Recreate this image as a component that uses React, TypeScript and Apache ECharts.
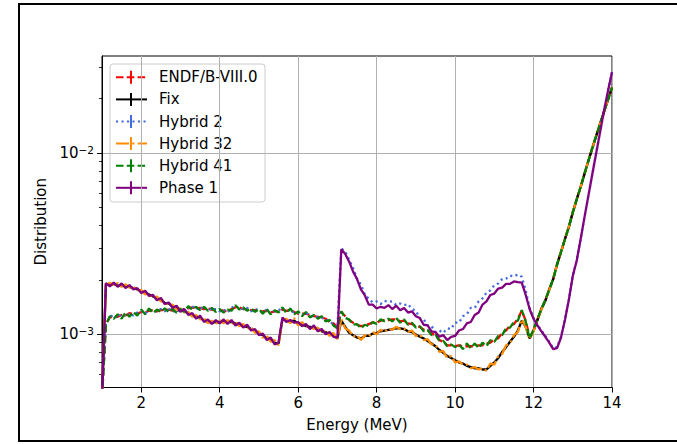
import React, { useEffect, useRef } from "react";
import * as echarts from "echarts";

// Energy grid (MeV)
const energyMeV = [
  1.0, 1.1, 1.2, 1.3, 1.4, 1.5, 1.6, 1.7, 1.8, 1.9,
  2.0, 2.1, 2.2, 2.3, 2.4, 2.5, 2.6, 2.7, 2.8, 2.9,
  3.0, 3.1, 3.2, 3.3, 3.4, 3.5, 3.6, 3.7, 3.8, 3.9,
  4.0, 4.1, 4.2, 4.3, 4.4, 4.5, 4.6, 4.7, 4.8, 4.9,
  5.0, 5.1, 5.2, 5.3, 5.4, 5.5, 5.6, 5.7, 5.8, 5.9,
  6.0, 6.1, 6.2, 6.3, 6.4, 6.5, 6.6, 6.7, 6.8, 6.9,
  7.0, 7.1, 7.2, 7.3, 7.4, 7.5, 7.6, 7.7, 7.8, 7.9,
  8.0, 8.1, 8.2, 8.3, 8.4, 8.5, 8.6, 8.7, 8.8, 8.9,
  9.0, 9.1, 9.2, 9.3, 9.4, 9.5, 9.6, 9.7, 9.8, 9.9,
  10.0, 10.1, 10.2, 10.3, 10.4, 10.5, 10.6, 10.7, 10.8, 10.9,
  11.0, 11.1, 11.2, 11.3, 11.4, 11.5, 11.6, 11.7, 11.8, 11.9,
  12.0, 12.1, 12.2, 12.3, 12.4, 12.5, 12.6, 12.7, 12.8, 12.9,
  13.0, 13.1, 13.2, 13.3, 13.4, 13.5, 13.6, 13.7, 13.8, 13.9,
  14.0,
];

// Distribution values in units of 1e-3
const endfB80 = [
  0.45, 1.14, 1.24, 1.26, 1.25, 1.28, 1.27, 1.31, 1.29, 1.30,
  1.33, 1.32, 1.35, 1.36, 1.34, 1.36, 1.36, 1.37, 1.35, 1.35,
  1.35, 1.38, 1.39, 1.41, 1.39, 1.40, 1.38, 1.39, 1.37, 1.36,
  1.36, 1.35, 1.34, 1.38, 1.41, 1.41, 1.38, 1.38, 1.36, 1.36,
  1.34, 1.34, 1.35, 1.32, 1.34, 1.34, 1.37, 1.35, 1.35, 1.33,
  1.30, 1.30, 1.30, 1.28, 1.26, 1.25, 1.24, 1.22, 1.17, 1.15,
  1.09, 1.33, 1.26, 1.20, 1.16, 1.13, 1.11, 1.12, 1.14, 1.16,
  1.16, 1.19, 1.20, 1.20, 1.21, 1.21, 1.18, 1.19, 1.15, 1.14,
  1.11, 1.10, 1.06, 1.05, 1.01, 0.99, 0.93, 0.91, 0.87, 0.87,
  0.86, 0.87, 0.86, 0.86, 0.86, 0.86, 0.87, 0.87, 0.89, 0.90,
  0.94, 0.95, 1.02, 1.05, 1.12, 1.14, 1.22, 1.35, 1.19, 0.96,
  1.05, 1.21, 1.39, 1.54, 1.77, 2.01, 2.43, 2.84, 3.35, 3.91,
  4.71, 5.54, 6.51, 7.69, 9.11, 10.7, 12.5, 14.6, 17.0, 19.8,
  23.0,
];

const fix = [
  0.45, 1.90, 1.88, 1.90, 1.86, 1.87, 1.85, 1.83, 1.80, 1.77,
  1.73, 1.70, 1.66, 1.62, 1.58, 1.56, 1.49, 1.48, 1.43, 1.41,
  1.36, 1.35, 1.30, 1.28, 1.24, 1.24, 1.19, 1.18, 1.16, 1.17,
  1.17, 1.18, 1.17, 1.17, 1.15, 1.14, 1.11, 1.10, 1.07, 1.05,
  1.01, 0.99, 0.95, 0.94, 0.90, 0.89, 1.21, 1.19, 1.18, 1.19,
  1.15, 1.14, 1.11, 1.10, 1.09, 1.07, 1.04, 1.03, 1.00, 0.99,
  0.95, 1.19, 1.10, 1.02, 0.99, 0.96, 0.95, 0.98, 0.98, 1.01,
  1.02, 1.04, 1.05, 1.06, 1.07, 1.08, 1.08, 1.07, 1.04, 1.03,
  1.00, 0.97, 0.95, 0.92, 0.89, 0.86, 0.82, 0.79, 0.76, 0.74,
  0.72, 0.70, 0.69, 0.67, 0.66, 0.65, 0.65, 0.64, 0.64, 0.67,
  0.70, 0.74, 0.80, 0.85, 0.91, 0.97, 1.05, 1.19, 1.10, 0.95,
  1.05, 1.20, 1.38, 1.53, 1.77, 2.02, 2.44, 2.85, 3.36, 3.92,
  4.71, 5.57, 6.51, 7.71, 9.11, 10.7, 12.5, 14.6, 17.0, 19.8,
  23.0,
];

const hybrid2 = [
  0.45, 1.15, 1.25, 1.28, 1.23, 1.30, 1.25, 1.31, 1.27, 1.32,
  1.35, 1.30, 1.37, 1.34, 1.34, 1.38, 1.34, 1.39, 1.33, 1.37,
  1.33, 1.38, 1.41, 1.43, 1.37, 1.42, 1.36, 1.41, 1.35, 1.38,
  1.34, 1.37, 1.32, 1.40, 1.44, 1.39, 1.38, 1.40, 1.34, 1.38,
  1.36, 1.32, 1.37, 1.30, 1.34, 1.36, 1.39, 1.33, 1.37, 1.31,
  1.32, 1.28, 1.32, 1.26, 1.26, 1.25, 1.24, 1.20, 1.19, 1.13,
  1.09, 2.98, 2.86, 2.58, 2.32, 2.03, 1.88, 1.66, 1.57, 1.50,
  1.52, 1.47, 1.53, 1.51, 1.52, 1.45, 1.48, 1.45, 1.47, 1.38,
  1.35, 1.23, 1.21, 1.12, 1.11, 1.03, 1.05, 1.02, 1.08, 1.07,
  1.16, 1.16, 1.26, 1.29, 1.40, 1.40, 1.52, 1.58, 1.70, 1.75,
  1.87, 1.91, 2.02, 2.03, 2.11, 2.09, 2.14, 2.08, 1.75, 1.40,
  1.23, 1.13, 1.05, 0.98, 0.91, 0.84, 0.85, 0.97, 1.21, 1.56,
  2.11, 2.56, 3.36, 4.46, 5.86, 7.71, 10.1, 13.2, 17.3, 22.2,
  28.0,
];

const hybrid32 = [
  0.45, 1.87, 1.93, 1.86, 1.92, 1.83, 1.89, 1.81, 1.84, 1.74,
  1.76, 1.66, 1.69, 1.58, 1.62, 1.52, 1.53, 1.44, 1.46, 1.37,
  1.39, 1.32, 1.33, 1.25, 1.28, 1.21, 1.23, 1.15, 1.19, 1.14,
  1.20, 1.15, 1.20, 1.14, 1.18, 1.11, 1.14, 1.07, 1.10, 1.02,
  1.04, 0.96, 0.98, 0.91, 0.93, 0.87, 1.20, 1.22, 1.15, 1.23,
  1.12, 1.17, 1.09, 1.12, 1.07, 1.09, 1.02, 1.05, 0.98, 1.02,
  0.94, 1.22, 1.08, 1.05, 0.97, 0.99, 0.93, 0.99, 0.97, 1.03,
  1.00, 1.06, 1.03, 1.08, 1.06, 1.10, 1.07, 1.08, 1.03, 1.05,
  0.98, 1.00, 0.93, 0.94, 0.88, 0.88, 0.80, 0.81, 0.74, 0.76,
  0.70, 0.71, 0.68, 0.68, 0.65, 0.66, 0.64, 0.65, 0.63, 0.69,
  0.68, 0.76, 0.78, 0.87, 0.89, 0.99, 1.03, 1.21, 1.10, 0.94,
  1.04, 1.21, 1.37, 1.54, 1.76, 2.03, 2.43, 2.86, 3.35, 3.93,
  4.72, 5.56, 6.52, 7.72, 9.12, 10.7, 12.5, 14.6, 17.0, 19.8,
  23.0,
];

const hybrid41 = [
  0.45, 1.13, 1.26, 1.22, 1.29, 1.22, 1.32, 1.25, 1.33, 1.27,
  1.37, 1.29, 1.39, 1.31, 1.37, 1.33, 1.39, 1.33, 1.38, 1.32,
  1.38, 1.33, 1.43, 1.37, 1.42, 1.36, 1.42, 1.35, 1.40, 1.33,
  1.38, 1.32, 1.37, 1.35, 1.45, 1.37, 1.41, 1.35, 1.39, 1.33,
  1.38, 1.30, 1.38, 1.29, 1.36, 1.32, 1.41, 1.31, 1.39, 1.29,
  1.34, 1.26, 1.33, 1.24, 1.28, 1.22, 1.26, 1.18, 1.20, 1.12,
  1.08, 1.34, 1.23, 1.21, 1.13, 1.14, 1.08, 1.13, 1.11, 1.17,
  1.14, 1.21, 1.18, 1.22, 1.18, 1.23, 1.16, 1.21, 1.13, 1.16,
  1.09, 1.11, 1.04, 1.06, 0.99, 1.00, 0.92, 0.92, 0.86, 0.88,
  0.85, 0.88, 0.83, 0.89, 0.84, 0.89, 0.84, 0.90, 0.86, 0.93,
  0.91, 0.98, 0.99, 1.08, 1.09, 1.17, 1.19, 1.36, 1.18, 0.95,
  1.06, 1.22, 1.38, 1.55, 1.76, 2.02, 2.42, 2.85, 3.34, 3.92,
  4.70, 5.55, 6.50, 7.70, 9.10, 10.7, 12.5, 14.6, 17.0, 19.8,
  23.0,
];

const phase1 = [
  0.45, 1.92, 1.84, 1.93, 1.83, 1.91, 1.80, 1.87, 1.77, 1.80,
  1.69, 1.74, 1.63, 1.65, 1.54, 1.59, 1.47, 1.50, 1.40, 1.44,
  1.33, 1.38, 1.28, 1.31, 1.22, 1.27, 1.17, 1.21, 1.14, 1.20,
  1.15, 1.21, 1.14, 1.20, 1.12, 1.16, 1.09, 1.13, 1.05, 1.07,
  0.99, 1.01, 0.93, 0.96, 0.88, 0.90, 1.24, 1.17, 1.20, 1.16,
  1.17, 1.11, 1.14, 1.07, 1.12, 1.04, 1.07, 1.00, 1.03, 0.97,
  0.96, 2.95, 2.78, 2.52, 2.22, 2.02, 1.77, 1.64, 1.46, 1.46,
  1.39, 1.42, 1.40, 1.45, 1.38, 1.44, 1.36, 1.40, 1.32, 1.34,
  1.26, 1.23, 1.13, 1.12, 1.04, 1.03, 0.97, 0.99, 0.93, 0.97,
  0.98, 1.05, 1.07, 1.15, 1.17, 1.28, 1.32, 1.46, 1.52, 1.65,
  1.68, 1.79, 1.81, 1.90, 1.90, 1.96, 1.94, 1.93, 1.65, 1.38,
  1.22, 1.12, 1.04, 0.97, 0.90, 0.83, 0.84, 0.96, 1.20, 1.55,
  2.10, 2.55, 3.35, 4.45, 5.85, 7.70, 10.1, 13.2, 17.3, 22.2,
  28.0,
];

const UNIT = 1e-3;

const seriesNames = ["ENDF/B-VIII.0", "Fix", "Hybrid 2", "Hybrid 32", "Hybrid 41", "Phase 1"];
const seriesValues = [endfB80, fix, hybrid2, hybrid32, hybrid41, phase1];

const xTicks = [2, 4, 6, 8, 10, 12, 14];
const yMajorTicks = [0.001, 0.01];
const yMinorTicks = [
  0.0006, 0.0007, 0.0008, 0.0009,
  0.002, 0.003, 0.004, 0.005, 0.006, 0.007, 0.008, 0.009,
  0.02, 0.03,
];
const yTickLabels = ["{b|10}{s|\u22123}", "{b|10}{s|\u22122}"];

const FONT = "DejaVu Sans";
const colors = ["#ff0000", "#000000", "#4169e1", "#ff8c00", "#008000", "#800080"];
const dashes: (number[] | null)[] = [
  [7.5, 3.3],
  null,
  [2.1, 3.4],
  [13, 3.3, 2.1, 3.3],
  [7.5, 3.3],
  null,
];

export default function App() {
  const ref = useRef<HTMLDivElement>(null);

  useEffect(() => {
    if (!ref.current) return;
    const chart = echarts.init(ref.current, null, { renderer: "svg" });

    const series = seriesNames.map((name, k) => ({
      type: "line",
      name,
      data: energyMeV.map((e, i) => [e, seriesValues[k][i] * UNIT]),
      showSymbol: false,
      symbol: "none",
      clip: true,
      lineStyle: {
        color: colors[k],
        width: 2.3,
        type: dashes[k] ? dashes[k] : "solid",
        cap: "butt",
      },
      itemStyle: { color: colors[k] },
      emphasis: { disabled: true },
      z: 2 + k,
    }));

    const legendTop = 77.3;
    const legendStep = 22.1;
    const legendChildren: any[] = [
      {
        type: "rect",
        shape: { x: 110, y: 64, width: 155, height: 138, r: 3 },
        style: { fill: "rgba(255,255,255,0.8)", stroke: "#cccccc", lineWidth: 1 },
      },
    ];
    seriesNames.forEach((name, i) => {
      const y = legendTop + legendStep * i;
      legendChildren.push({
        type: "line",
        shape: { x1: 116, y1: y, x2: 147, y2: y },
        style: { stroke: colors[i], lineWidth: 2, lineDash: dashes[i] || null },
      });
      legendChildren.push({
        type: "line",
        shape: { x1: 131, y1: y - 6.5, x2: 131, y2: y + 6.5 },
        style: { stroke: colors[i], lineWidth: 2 },
      });
      legendChildren.push({
        type: "text",
        x: 159,
        y,
        style: {
          text: name,
          fill: "#000",
          fontSize: 15,
          fontFamily: FONT,
          align: "left",
          verticalAlign: "middle",
        },
      });
    });

    const option: any = {
      animation: false,
      backgroundColor: "#ffffff",
      grid: {
        left: 102,
        top: 56,
        right: 65,
        bottom: 56.5,
        show: true,
        borderColor: "#000",
        borderWidth: 1,
        backgroundColor: "transparent",
      },
      xAxis: {
        type: "value",
        min: 1,
        max: 14,
        splitNumber: 7,
        axisLine: { show: true, lineStyle: { color: "#000", width: 1 } },
        axisTick: { show: true, customValues: xTicks, length: 5, lineStyle: { color: "#000", width: 1 } },
        axisLabel: {
          customValues: xTicks,
          margin: 8,
          fontSize: 15,
          color: "#000",
          fontFamily: FONT,
        },
        splitLine: { show: true, customValues: xTicks, lineStyle: { color: "#b0b0b0", width: 1 } },
        name: "Energy (MeV)",
        nameLocation: "middle",
        nameGap: 30,
        nameTextStyle: { fontSize: 15, color: "#000", fontFamily: FONT },
      },
      yAxis: [
        {
          type: "log",
          logBase: 10,
          min: 5.09e-4,
          max: 0.0344,
          axisLine: { show: true, lineStyle: { color: "#000", width: 1 } },
          axisTick: { show: true, customValues: yMajorTicks, length: 5, lineStyle: { color: "#000", width: 1 } },
          axisLabel: {
            customValues: yMajorTicks,
            margin: 8,
            formatter: (v: number) => (v < 0.005 ? yTickLabels[0] : yTickLabels[1]),
            rich: {
              b: { fontSize: 15, fontFamily: FONT, color: "#000", lineHeight: 18 },
              s: { fontSize: 10.5, fontFamily: FONT, color: "#000", lineHeight: 12, verticalAlign: "top" },
            },
          },
          splitLine: { show: true, lineStyle: { color: "#b0b0b0", width: 1 } },
          name: "Distribution",
          nameLocation: "middle",
          nameGap: 46,
          nameRotate: 90,
          nameTextStyle: { fontSize: 15, color: "#000", fontFamily: FONT },
        },
        {
          type: "log",
          logBase: 10,
          min: 5.09e-4,
          max: 0.0344,
          position: "left",
          axisLine: { show: false },
          axisLabel: { show: false },
          splitLine: { show: false },
          axisTick: { show: true, customValues: yMinorTicks, length: 3, lineStyle: { color: "#000", width: 0.8 } },
        },
      ],
      series,
      graphic: [
        {
          type: "rect",
          shape: { x: 19, y: 4, width: 720, height: 437 },
          style: { fill: "none", stroke: "#000", lineWidth: 2 },
          z: 100,
        },
        {
          type: "group",
          z: 90,
          children: legendChildren,
        },
      ],
    };

    chart.setOption(option);
    return () => chart.dispose();
  }, []);

  return (
    <div
      ref={ref}
      style={{ position: "fixed", left: 0, top: 0, width: 677, height: 444, background: "#fff" }}
    />
  );
}
